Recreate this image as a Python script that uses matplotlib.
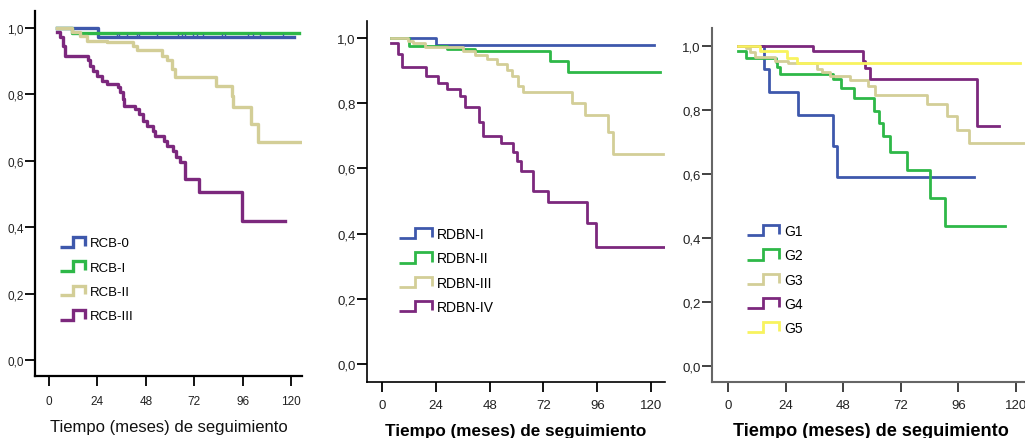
import numpy as np
import matplotlib
matplotlib.use("Agg")
import matplotlib.pyplot as plt
from matplotlib import font_manager as fm
from matplotlib.lines import Line2D
from matplotlib.legend_handler import HandlerBase

# ---------------- data ----------------
# Panel 1: RCB
rcb0_t = [4, 24.3, 121.5]
rcb0_s = [1.0, 0.974, 0.974]
rcb0_censor = [33.6, 34.9, 38.8, 43.5, 44.8, 53.4, 64.1, 65.8, 67.4, 71.5,
               73.2, 76.5, 85.6, 87.2, 98.8, 101.3, 104.6, 116.2]
rcb1_t = [4, 11.4, 124]
rcb1_s = [1.0, 0.984, 0.984]
rcb2_t = [3.8, 11.2, 15.4, 19.0, 28.6, 41.8, 43.5, 55.9, 58.3, 60.8, 62.5,
          82.8, 90.6, 91.4, 100.0, 103.8, 125.3]
rcb2_s = [1.0, 0.987, 0.975, 0.962, 0.957, 0.947, 0.935, 0.917, 0.902, 0.877,
          0.851, 0.826, 0.796, 0.761, 0.711, 0.656, 0.656]
rcb3_t = [4.1, 5.5, 7.1, 7.9, 19.5, 20.3, 21.7, 23.6, 26.1, 28.6, 34.4, 35.2,
          36.5, 37.2, 42.6, 44.8, 46.8, 48.4, 51.7, 52.6, 57.0, 58.4, 61.6,
          63.0, 64.9, 67.4, 74.5, 95.8, 117.0]
rcb3_s = [0.987, 0.972, 0.947, 0.917, 0.902, 0.886, 0.871, 0.856, 0.841, 0.831,
          0.821, 0.806, 0.786, 0.766, 0.756, 0.741, 0.721, 0.706, 0.691, 0.676,
          0.661, 0.645, 0.630, 0.610, 0.595, 0.545, 0.507, 0.420, 0.420]
rcb_labels = ["RCB-0", "RCB-I", "RCB-II", "RCB-III"]

# Panel 2: RDBN
rdbn1_t = [4, 24, 121.5]
rdbn1_s = [1.0, 0.979, 0.979]
rdbn2_t = [4, 12, 28.8, 41.5, 74.9, 83.1, 124]
rdbn2_s = [1.0, 0.975, 0.966, 0.959, 0.929, 0.897, 0.897]
rdbn3_t = [4, 11.7, 13.9, 19.2, 36.3, 41.5, 46.7, 51.2, 55.6, 57.8, 60.8, 62.7,
           84.6, 90.5, 100.9, 103.2, 125.2]
rdbn3_s = [1.0, 0.992, 0.985, 0.971, 0.960, 0.949, 0.935, 0.919, 0.902, 0.884,
           0.854, 0.835, 0.801, 0.764, 0.711, 0.644, 0.644]
rdbn4_t = [4, 7.3, 8.8, 19.6, 25.1, 28.8, 34.8, 37.0, 43.4, 45.2, 52.9, 58.6,
           60.1, 61.9, 67.5, 74.2, 91.3, 95.5, 126.2]
rdbn4_s = [0.985, 0.951, 0.912, 0.884, 0.861, 0.844, 0.823, 0.787, 0.743, 0.700,
           0.677, 0.649, 0.624, 0.593, 0.532, 0.496, 0.433, 0.360, 0.360]
rdbn_labels = ["RDBN-I", "RDBN-II", "RDBN-III", "RDBN-IV"]

# Panel 3: G
g1_t = [4.3, 15.1, 17.2, 29.0, 43.9, 45.5, 102.5]
g1_s = [1.0, 0.928, 0.857, 0.785, 0.688, 0.590, 0.590]
g2_t = [4.3, 7.5, 20.0, 20.5, 21.7, 43.9, 47.1, 52.5, 60.8, 63.1, 64.4, 67.5,
        74.4, 84.2, 90.4, 115.4]
g2_s = [0.983, 0.963, 0.949, 0.933, 0.913, 0.897, 0.868, 0.836, 0.796, 0.759,
        0.718, 0.668, 0.613, 0.524, 0.438, 0.438]
g3_t = [4.3, 7.5, 9.2, 11.2, 19.6, 25.1, 37.0, 39.0, 42.5, 50.8, 58.5, 61.3,
        82.8, 91.4, 95.3, 100.4, 126]
g3_s = [1.0, 0.992, 0.980, 0.965, 0.954, 0.947, 0.928, 0.918, 0.905, 0.892,
        0.874, 0.848, 0.818, 0.780, 0.738, 0.696, 0.696]
g4_t = [4.3, 35.5, 56.1, 57.1, 59.2, 103.6, 113.0]
g4_s = [1.0, 0.983, 0.954, 0.930, 0.897, 0.749, 0.749]
g5_t = [4.3, 13.3, 24.4, 28.6, 121.7]
g5_s = [1.0, 0.983, 0.963, 0.946, 0.946]
g_labels = ["G1", "G2", "G3", "G4", "G5"]

xticks = [0, 24, 48, 72, 96, 120]
xtick_labels = ["0", "24", "48", "72", "96", "120"]
yticks = [0.0, 0.2, 0.4, 0.6, 0.8, 1.0]
ytick_labels = ["0,0", "0,2", "0,4", "0,6", "0,8", "1,0"]
xlabel = "Tiempo (meses) de seguimiento"

colors = ["#3E58AC", "#2EB848", "#D3CE97", "#7C287D", "#F8F35E"]

# ---------------- fonts ----------------
names = {f.name for f in fm.fontManager.ttflist}
main_font = "Liberation Sans" if "Liberation Sans" in names else "DejaVu Sans"
narrow_font = "Liberation Sans Narrow" if "Liberation Sans Narrow" in names else main_font
plt.rcParams["font.family"] = [main_font, "DejaVu Sans"]

W, H = 1025, 439
fig = plt.figure(figsize=(W / 100, H / 100), dpi=100)
fig.patch.set_facecolor("white")


def px_axes(l, t, r, b):
    return fig.add_axes([l / W, 1 - b / H, (r - l) / W, (b - t) / H])


class StepHandler(HandlerBase):
    def create_artists(self, legend, orig_handle, xdescent, ydescent,
                       width, height, fontsize, trans):
        xs = np.array([0, 0.5, 0.5, 1.0, 1.0]) * width - xdescent
        ys = np.array([0.0, 0.0, 1.0, 1.0, 0.1]) * height - ydescent
        ln = Line2D(xs, ys, color=orig_handle.get_color(),
                    lw=orig_handle.get_linewidth(),
                    solid_joinstyle="miter", solid_capstyle="butt")
        ln.set_transform(trans)
        return [ln]


def style_axes(ax, spine_color, spine_w, tick_color, fsize, family, xpad, ypad):
    for s in ["top", "right"]:
        ax.spines[s].set_visible(False)
    for s in ["left", "bottom"]:
        ax.spines[s].set_color(spine_color)
        ax.spines[s].set_linewidth(spine_w)
    ax.set_xticks(xticks, xtick_labels)
    ax.set_yticks(yticks, ytick_labels)
    ax.tick_params(axis="both", direction="out", length=7, width=1.3,
                   color=tick_color, labelcolor="#222222", labelsize=fsize)
    ax.tick_params(axis="x", pad=xpad)
    ax.tick_params(axis="y", pad=ypad)
    for lab in ax.get_xticklabels() + ax.get_yticklabels():
        lab.set_family(family)
    ax.set_facecolor("white")


def add_legend(ax, handles, labels, x_px, top_px, fsize, family, hlen, spacing):
    leg = ax.legend(handles, labels, loc="upper left",
                    bbox_to_anchor=(x_px / W, 1 - top_px / H),
                    bbox_transform=fig.transFigure, frameon=False,
                    borderpad=0, borderaxespad=0, handlelength=hlen,
                    handleheight=0.75, handletextpad=0.35,
                    labelspacing=spacing,
                    prop={"family": family, "size": fsize},
                    handler_map={Line2D: StepHandler()})
    return leg


# ---------------- panel 1 ----------------
ax1 = px_axes(35, 12, 302, 377)
ax1.set_xlim(-6.94, 125.4)
ax1.set_ylim(-0.048, 1.051)
lw1 = 2.4
h1 = []
for (t, s), c in zip([(rcb0_t, rcb0_s), (rcb1_t, rcb1_s), (rcb2_t, rcb2_s),
                      (rcb3_t, rcb3_s)], colors[:4]):
    ln, = ax1.step(t, s, where="post", color=c, lw=lw1)
    h1.append(ln)
ax1.plot(rcb0_censor, [0.977] * len(rcb0_censor), ls="none", marker="|",
         ms=3.5, mew=1.0, color=colors[0])
style_axes(ax1, "black", 1.6, "black", 8.5, narrow_font, 7, 1)
add_legend(ax1, h1, rcb_labels, 60, 238, 9.5, narrow_font, 1.9, 0.9)
fig.text((35 + 302) / 2 / W, 1 - 432 / H, xlabel, ha="center", va="baseline",
         fontsize=12, family=narrow_font, color="#111111")

# ---------------- panel 2 ----------------
ax2 = px_axes(367, 22, 665, 383)
ax2.set_xlim(-6.7, 126.2)
ax2.set_ylim(-0.055, 1.052)
lw2 = 2.0
h2 = []
for (t, s), c in zip([(rdbn1_t, rdbn1_s), (rdbn2_t, rdbn2_s), (rdbn3_t, rdbn3_s),
                      (rdbn4_t, rdbn4_s)], colors[:4]):
    ln, = ax2.step(t, s, where="post", color=c, lw=lw2)
    h2.append(ln)
style_axes(ax2, "black", 1.2, "black", 9.5, main_font, 5, 1)
add_legend(ax2, h2, rdbn_labels, 399, 228, 10, main_font, 2.35, 0.75)
fig.text(516 / W, 3 / H, xlabel, ha="center", va="baseline",
         fontsize=12.3, fontweight="bold", color="black")

# ---------------- panel 3 ----------------
ax3 = px_axes(712, 29, 1030, 383)
ax3.set_xlim(-6.67, 125.8)
ax3.set_ylim(-0.05, 1.056)
h3 = []
for (t, s), c in zip([(g1_t, g1_s), (g2_t, g2_s), (g3_t, g3_s), (g4_t, g4_s),
                      (g5_t, g5_s)], colors):
    ln, = ax3.step(t, s, where="post", color=c, lw=lw2)
    h3.append(ln)
style_axes(ax3, "#666666", 1.5, "#333333", 9.5, main_font, 5, 1)
add_legend(ax3, h3, g_labels, 747, 225, 10, main_font, 2.3, 0.74)
fig.text(871 / W, 3 / H, xlabel, ha="center", va="baseline",
         fontsize=13.1, fontweight="bold", color="black")

fig.savefig("out.png", dpi=100, facecolor="white")
